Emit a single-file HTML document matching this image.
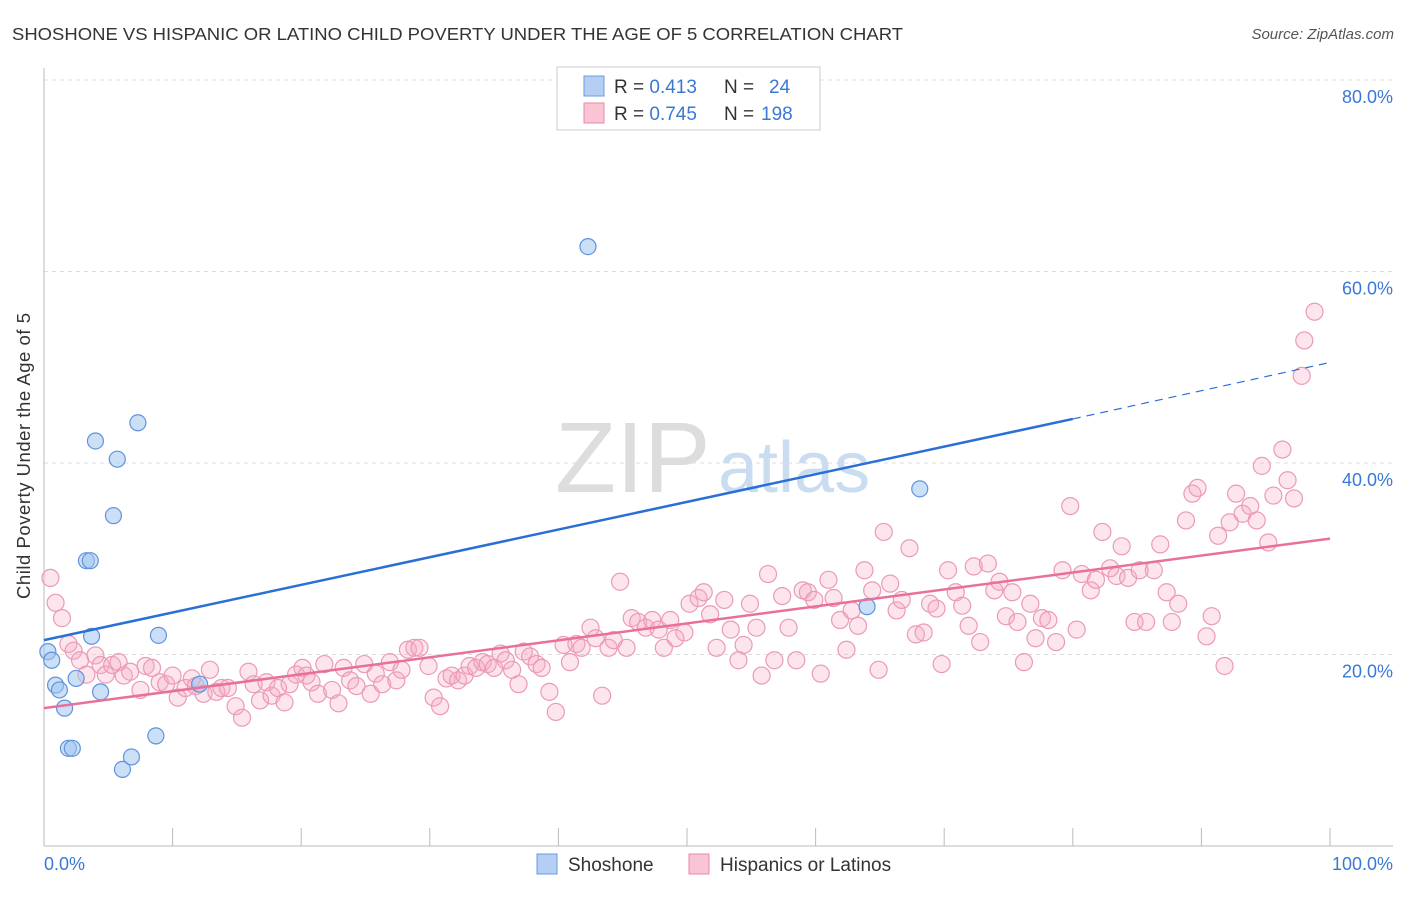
<!DOCTYPE html>
<html><head><meta charset="utf-8"><style>
body{margin:0;background:#fff;font-family:"Liberation Sans",sans-serif;}
svg text{font-family:"Liberation Sans",sans-serif;}
</style></head><body>
<svg width="1406" height="892" xmlns="http://www.w3.org/2000/svg">
<text x="12" y="40" font-size="17.5" fill="#333" textLength="891" lengthAdjust="spacingAndGlyphs">SHOSHONE VS HISPANIC OR LATINO CHILD POVERTY UNDER THE AGE OF 5 CORRELATION CHART</text>
<text x="1394" y="39" font-size="15" fill="#555" font-style="italic" text-anchor="end">Source: ZipAtlas.com</text>
<g id="grid"></g>
<g id="axes"></g>
<text x="555" y="492" font-size="100" fill="#ddd" font-family="Liberation Serif">ZIP</text>
<text x="718" y="492" font-size="72" fill="#c9dcf0">atlas</text>
<g id="pink"></g>
<g id="blue"></g>
<g id="lines"></g>
<text x="30" y="456" font-size="18.5" fill="#333" text-anchor="middle" textLength="286" transform="rotate(-90 30 456)">Child Poverty Under the Age of 5</text>
<g>
<rect x="557" y="67" width="263" height="63" fill="#fff" stroke="#ccc"/>
<rect x="584" y="76" width="20" height="20" fill="#b4cff3" stroke="#6a9be0"/>
<rect x="584" y="103" width="20" height="20" fill="#f9c4d4" stroke="#e88aa8"/>
<text x="614" y="93" font-size="19" fill="#333">R = <tspan fill="#3a78d6">0.413</tspan><tspan x="724">N = </tspan><tspan x="769" fill="#3a78d6">24</tspan></text>
<text x="614" y="120" font-size="19" fill="#333">R = <tspan fill="#3a78d6">0.745</tspan><tspan x="724">N = </tspan><tspan x="761" fill="#3a78d6">198</tspan></text>
</g>
<g>
<rect x="537" y="854" width="20" height="20" fill="#b4cff3" stroke="#6a9be0"/>
<text x="568" y="871" font-size="19" fill="#333">Shoshone</text>
<rect x="689" y="854" width="20" height="20" fill="#f9c4d4" stroke="#e88aa8"/>
<text x="720" y="871" font-size="19" fill="#333">Hispanics or Latinos</text>
</g>
</svg>
<script>
const yTicks=[20,40,60,80];
const yTickLabels=["20.0%","40.0%","60.0%","80.0%"];
const xTickLabels=["0.0%","100.0%"];
const blueX=[0.3,0.6,0.9,1.2,2.5,1.6,3.7,4.0,5.7,7.3,5.4,3.3,3.6,4.4,1.9,2.2,6.1,6.8,8.7,8.9,12.1,42.3,64.0,68.1];
const blueY=[20.3,19.4,16.8,16.3,17.5,14.4,21.9,42.3,40.4,44.2,34.5,29.8,29.8,16.1,10.2,10.2,8.0,9.3,11.5,22.0,16.9,62.6,25.0,37.3];
const pinkX=[0.5,0.9,1.4,1.9,2.3,2.8,3.3,4.0,4.4,4.8,5.3,5.8,6.2,6.7,7.5,7.9,8.4,9.0,9.5,10.0,10.4,11.0,11.5,11.8,12.4,12.9,13.4,13.8,14.3,14.9,15.4,15.9,16.3,16.8,17.3,17.7,18.2,18.7,19.1,19.6,20.1,20.4,20.8,21.3,21.8,22.4,22.9,23.3,23.8,24.3,24.9,25.4,25.8,26.3,26.9,27.4,27.8,28.3,28.8,29.2,29.9,30.3,30.8,31.3,31.7,32.2,32.7,33.1,33.6,34.1,34.5,35.0,35.5,35.9,36.4,36.9,37.3,37.8,38.3,38.7,39.3,39.8,40.4,40.9,41.4,41.8,42.5,42.9,43.4,43.9,44.3,44.8,45.3,45.7,46.2,46.8,47.3,47.8,48.2,48.7,49.1,49.8,50.2,50.9,51.3,51.8,52.3,52.9,53.4,54.0,54.4,54.9,55.4,55.8,56.3,56.8,57.4,57.9,58.5,59.0,59.4,59.9,60.4,61.0,61.4,61.9,62.4,62.8,63.3,63.8,64.4,64.9,65.3,65.8,66.3,66.7,67.3,67.8,68.4,68.9,69.4,69.8,70.3,70.9,71.4,71.9,72.3,72.8,73.4,73.9,74.3,74.8,75.3,75.7,76.2,76.7,77.1,77.6,78.1,78.7,79.2,79.8,80.3,80.7,81.4,81.8,82.3,82.9,83.4,83.8,84.3,84.8,85.2,85.7,86.3,86.8,87.3,87.7,88.2,88.8,89.3,89.7,90.4,90.8,91.3,91.8,92.2,92.7,93.2,93.8,94.3,94.7,95.2,95.6,96.3,96.7,97.2,97.8,98.0,98.8];
const pinkY=[28.0,25.4,23.8,21.1,20.4,19.4,17.9,19.9,18.9,17.9,18.9,19.2,17.8,18.2,16.3,18.8,18.6,17.1,16.9,17.8,15.5,16.5,17.5,16.7,15.9,18.4,16.1,16.5,16.5,14.6,13.4,18.2,16.9,15.2,17.1,15.7,16.5,15.0,16.9,17.9,18.6,17.8,17.1,15.9,19.0,16.3,14.9,18.6,17.3,16.7,19.0,15.9,18.0,16.9,19.2,17.3,18.4,20.5,20.7,20.7,18.8,15.5,14.6,17.5,17.8,17.3,17.8,18.8,18.6,19.2,19.0,18.6,20.1,19.4,18.4,16.9,20.3,19.8,19.0,18.6,16.1,14.0,21.0,19.2,21.1,20.7,22.8,21.7,15.7,20.7,21.5,27.6,20.7,23.8,23.4,22.8,23.6,22.6,20.7,23.6,21.7,22.3,25.3,25.9,26.5,24.2,20.7,25.7,22.6,19.4,21.0,25.3,22.8,17.8,28.4,19.4,26.1,22.8,19.4,26.7,26.5,25.7,18.0,27.8,25.9,23.6,20.5,24.6,23.0,28.8,26.7,18.4,32.8,27.4,24.6,25.7,31.1,22.1,22.3,25.3,24.8,19.0,28.8,26.5,25.1,23.0,29.2,21.3,29.5,26.7,27.6,24.0,26.5,23.4,19.2,25.3,21.7,23.8,23.6,21.3,28.8,35.5,22.6,28.4,26.7,27.8,32.8,29.0,28.2,31.3,28.0,23.4,28.8,23.4,28.8,31.5,26.5,23.4,25.3,34.0,36.8,37.4,21.9,24.0,32.4,18.8,33.8,36.8,34.7,35.5,34.0,39.7,31.7,36.6,41.4,38.2,36.3,49.1,52.8,55.8];
const blueTrend=[21.5,44.6,50.5]; const blueTrendX=[0,80,100];
const pinkTrend=[14.4,32.1]; const pinkTrendX=[0,100];
const X=v=>44+v*12.86, Y=v=>846-v*9.575;
const NS='http://www.w3.org/2000/svg';
function mk(t,a,p){const e=document.createElementNS(NS,t);for(const k in a)e.setAttribute(k,a[k]);p.appendChild(e);return e;}
const grid=document.getElementById('grid'),axes=document.getElementById('axes');
yTicks.forEach((t,i)=>{
 const l=mk('line',{x1:44,x2:1393,y1:Y(t),y2:Y(t),stroke:'#ddd','stroke-dasharray':'4,4'},grid);
 
 
 const tx=mk('text',{x:1393,y:Y(t)+23,'font-size':18,fill:'#3a78d6','text-anchor':'end'},axes);
 tx.textContent=yTickLabels[i];
 
 
});
mk('line',{x1:44,x2:44,y1:68,y2:846,stroke:'#bbb'},axes);
mk('line',{x1:44,x2:1393,y1:846,y2:846,stroke:'#bbb'},axes);
for(let i=1;i<=10;i++){mk('line',{x1:X(i*10),x2:X(i*10),y1:828,y2:846,stroke:'#bbb'},axes);}
const t0=mk('text',{x:44,y:870,'font-size':18,fill:'#3a78d6'},axes);t0.textContent=xTickLabels[0];


const t1=mk('text',{x:1393,y:870,'font-size':18,fill:'#3a78d6','text-anchor':'end'},axes);t1.textContent=xTickLabels[1];


const pg=document.getElementById('pink');
pinkX.forEach((x,i)=>{const c=mk('circle',{cx:X(x),cy:Y(pinkY[i]),r:8.5,fill:'rgba(246,170,196,0.3)',stroke:'#eb9ab5','stroke-width':1.2},pg);
 
 });
const bg=document.getElementById('blue');
blueX.forEach((x,i)=>{const c=mk('circle',{cx:X(x),cy:Y(blueY[i]),r:8,fill:'rgba(160,196,240,0.55)',stroke:'#5f93dc','stroke-width':1.2},bg);
 
 });
const lg=document.getElementById('lines');
const bl=mk('line',{x1:X(blueTrendX[0]),y1:Y(blueTrend[0]),x2:X(blueTrendX[1]),y2:Y(blueTrend[1]),stroke:'#2a6fd6','stroke-width':2.5},lg);


const bd=mk('line',{x1:X(blueTrendX[1]),y1:Y(blueTrend[1]),x2:X(blueTrendX[2]),y2:Y(blueTrend[2]),stroke:'#2a6fd6','stroke-width':1.2,'stroke-dasharray':'8,6'},lg);


const pl=mk('line',{x1:X(pinkTrendX[0]),y1:Y(pinkTrend[0]),x2:X(pinkTrendX[1]),y2:Y(pinkTrend[1]),stroke:'#e8709a','stroke-width':2.5},lg);


</script>
</body></html>
